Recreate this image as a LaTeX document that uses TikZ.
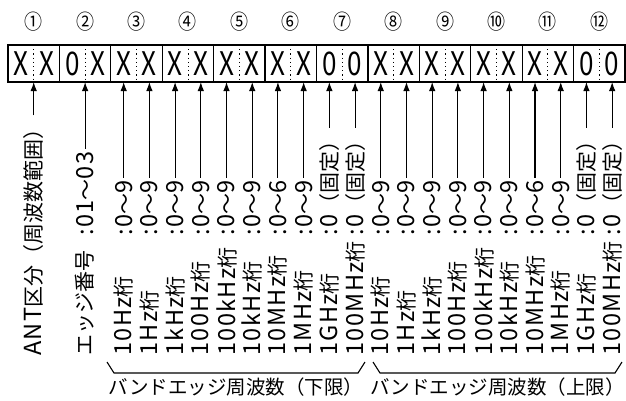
\documentclass[tikz,border=0pt]{standalone}
\usepackage{fontspec}
\setmainfont{Noto Sans CJK JP}
\newfontfamily\latwide{Noto Sans CJK JP}[Scale=1.12, LetterSpace=6]
\newcommand{\lat}[1]{{\latwide #1}}
\newcommand{\upto}[1]{\lat{:0}～\lat{#1}}
\newcommand{\zerofix}{\lat{:0}（固定）}
\usetikzlibrary{arrows.meta, positioning}

\begin{document}
\begin{tikzpicture}[x=1pt, y=-1pt,
    frame/.style={line width=1.2pt},
    half/.style={line width=0.9pt, dash pattern=on 1.2pt off 3pt},
    glyph/.style={font=\fontsize{26}{26}\selectfont, yscale=1.25, inner sep=0pt},
    num/.style={font=\fontsize{18}{18}\selectfont, yscale=1.15, inner sep=0pt},
    desc/.style={font=\fontsize{21}{21}\selectfont, rotate=90, anchor=west, inner sep=0pt},
    pointer/.style={-{Latex[length=9pt, width=6.5pt]}, line width=1.1pt, shorten <=3pt},
    brace/.style={line width=1.1pt},
    band/.style={font=\fontsize{19.5}{19.5}\selectfont, inner sep=0pt},
  ]
  \useasboundingbox (0,0) rectangle (626,400);
  \def\cw{51.417}

  % 桁 (1)～(12)
  \foreach \k/\n/\ga/\gb in {1/①/X/X, 2/②/0/X, 3/③/X/X, 4/④/X/X, 5/⑤/X/X, 6/⑥/X/X,
      7/⑦/0/0, 8/⑧/X/X, 9/⑨/X/X, 10/⑩/X/X, 11/⑪/X/X, 12/⑫/0/0} {
    \pgfmathsetmacro{\x}{8+(\k-1)*\cw}
    \draw[frame] (\x,45) rectangle ({\x+\cw},82);
    \draw[half] ({\x+\cw/2},45) -- ({\x+\cw/2},82);
    \node[num] (n\k) at ({\x+\cw/2},22) {\n};
    \node[glyph] (g\k l) at ({\x+\cw/4},63.5) {\ga};
    \node[glyph] (g\k r) at ({\x+3*\cw/4},63.5) {\gb};
    \coordinate (p\k) at ({\x+\cw/2},82);
    \coordinate (p\k a) at ({\x+\cw/4},82);
    \coordinate (p\k b) at ({\x+3*\cw/4},82);
  }

  \coordinate (base) at (0,356);
  \coordinate (colon) at (0,236);

  % ANT区分, エッジ番号
  \node[desc] (ant) at (p1 |- base) {\lat{ANT}区分（周波数範囲）};
  \node[desc] (d2) at (p2 |- base) {エッジ番号};
  \node[desc] (v2) at (p2 |- colon) {\lat{:01}～\lat{03}};
  \draw[pointer] (ant.east) -- (p1);
  \draw[pointer] (v2.east) -- (p2);

  % 下限 / 上限 の各桁
  \foreach \c/\d/\v in {3a/10Hz/\upto9, 3b/1Hz/\upto9, 4a/1kHz/\upto9, 4b/100Hz/\upto9,
      5a/100kHz/\upto9, 5b/10kHz/\upto9, 6a/10MHz/\upto6, 6b/1MHz/\upto9,
      7a/1GHz/\zerofix, 7b/100MHz/\zerofix,
      8a/10Hz/\upto9, 8b/1Hz/\upto9, 9a/1kHz/\upto9, 9b/100Hz/\upto9,
      10a/100kHz/\upto9, 10b/10kHz/\upto9, 11a/10MHz/\upto6, 11b/1MHz/\upto9,
      12a/1GHz/\zerofix, 12b/100MHz/\zerofix} {
    \node[desc] (d\c) at (p\c |- base) {\lat{\d}桁};
    \node[desc] (v\c) at (p\c |- colon) {\v};
    \draw[pointer] (v\c.east) -- (p\c);
  }

  % 括り
  \coordinate (lo) at (236,373);
  \coordinate (hi) at (497.5,373);
  \draw[brace] (107,362) -- (114,373) -- (358,373) -- (365,362);
  \draw[brace] (373,362) -- (380,373) -- (615,373) -- (622,362);
  \node[band, below=5pt of lo] (lolabel) {バンドエッジ周波数（下限）};
  \node[band, below=5pt of hi] (hilabel) {バンドエッジ周波数（上限）};
\end{tikzpicture}
\end{document}
